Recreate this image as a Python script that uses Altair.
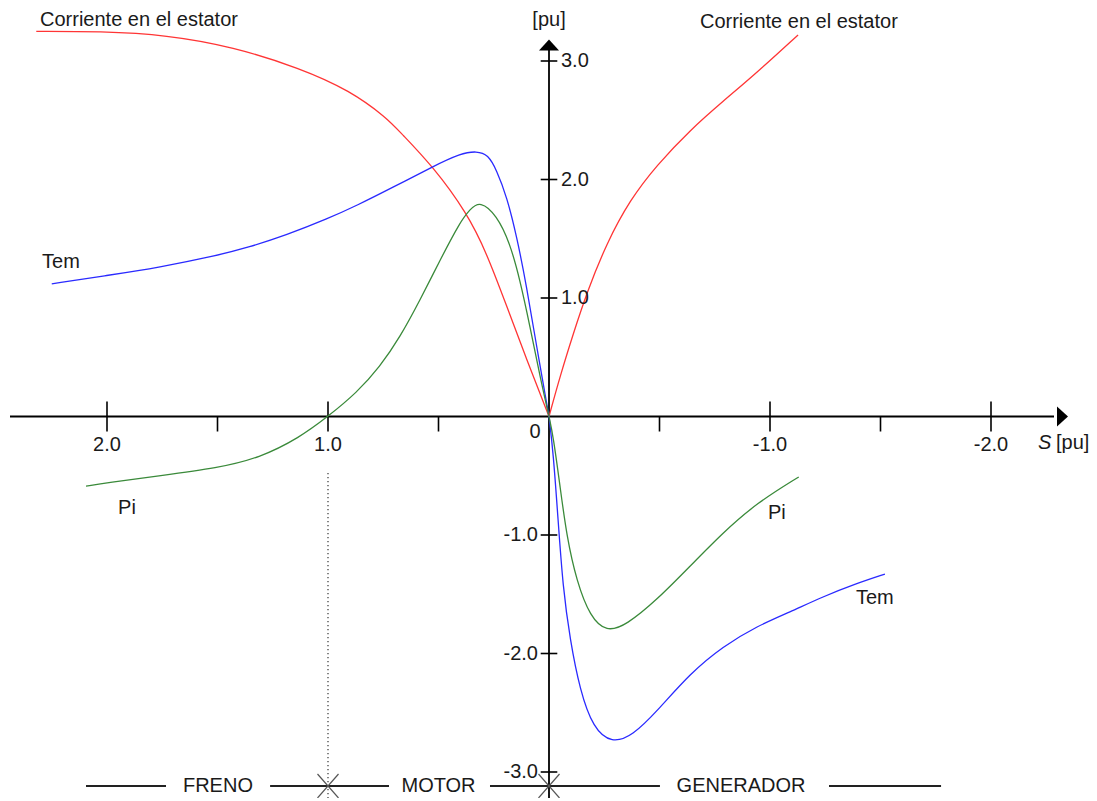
import altair as alt
import pandas as pd

# ---------------- data (S and values in pu) ----------------
corr_izq_S = [2.32, 2.03, 1.73, 1.43, 1.127, 0.90, 0.734, 0.674, 0.525, 0.372, 0.282, 0.191, 0.101, 0.0]
corr_izq_v = [3.25, 3.25, 3.22, 3.12, 2.94, 2.75, 2.52, 2.40, 2.11, 1.72, 1.38, 0.93, 0.48, 0.0]
corr_der_S = [0.0, -0.05, -0.11, -0.17, -0.26, -0.367, -0.487, -0.64, -0.787, -0.94, -1.127]
corr_der_v = [0.0, 0.34, 0.70, 1.04, 1.46, 1.83, 2.12, 2.42, 2.66, 2.90, 3.22]

tem_izq_S = [2.25, 2.0, 1.76, 1.52, 1.355, 1.19, 1.0, 0.87, 0.71, 0.525, 0.40, 0.327, 0.276, 0.237, 0.191, 0.146, 0.101, 0.056, 0.0]
tem_izq_v = [1.12, 1.19, 1.26, 1.35, 1.43, 1.53, 1.67, 1.78, 1.93, 2.11, 2.22, 2.24, 2.21, 2.08, 1.855, 1.52, 1.095, 0.59, 0.0]
tem_der_S = [0.0, -0.0195, -0.041, -0.063, -0.095, -0.14, -0.20, -0.284, -0.38, -0.487, -0.64, -0.787, -0.94, -1.09, -1.24, -1.39, -1.52]
tem_der_v = [0.0, -0.31, -0.87, -1.44, -1.88, -2.31, -2.63, -2.76, -2.69, -2.49, -2.165, -1.94, -1.77, -1.65, -1.52, -1.41, -1.33]

pi_izq_S = [2.095, 2.0, 1.76, 1.50, 1.31, 1.13, 1.0, 0.87, 0.765, 0.674, 0.584, 0.493, 0.403, 0.357, 0.312, 0.237, 0.176, 0.131, 0.086, 0.041, 0.0]
pi_izq_v = [-0.587, -0.56, -0.50, -0.435, -0.35, -0.18, 0.0, 0.20, 0.42, 0.67, 0.98, 1.32, 1.64, 1.75, 1.82, 1.70, 1.46, 1.15, 0.76, 0.34, 0.0]
pi_der_S = [0.0, -0.0195, -0.05, -0.08, -0.125, -0.186, -0.26, -0.35, -0.487, -0.64, -0.787, -0.94, -1.13]
pi_der_v = [0.0, -0.17, -0.59, -1.01, -1.39, -1.69, -1.82, -1.76, -1.55, -1.26, -0.98, -0.73, -0.51]

series = ["Corriente", "Tem", "Pi"]
series_colors = ["#ff3535", "#2a2aff", "#3a8a3a"]

# axis ticks
x_major = [2.0, 1.0, -1.0, -2.0]
x_major_text = ["2.0", "1.0", "-1.0", "-2.0"]
x_minor = [1.5, 0.5, -0.5, -1.5]
y_pos = [3.0, 2.0, 1.0]
y_pos_text = ["3.0", "2.0", "1.0"]
y_neg = [-1.0, -2.0, -3.0]
y_neg_text = ["-1.0", "-2.0", "-3.0"]

# annotations
curve_labels = ["Corriente en el estator", "Corriente en el estator", "Tem", "Pi", "Pi", "Tem"]
curve_label_S = [2.303, -0.683, 2.294, 1.95, -0.991, -1.389]
curve_label_v = [3.345, 3.33, 1.304, -0.772, -0.814, -1.532]

zonas = ["FRENO", "MOTOR", "GENERADOR"]
zonas_S = [1.498, 0.5, -0.869]
zona_fila_v = -3.118
zona_tramos_S1 = [2.095, 1.262, 0.267, -1.267]
zona_tramos_S2 = [1.733, 0.724, -0.502, -1.774]
zona_cruces_S = [1.0, 0.0]

# ---------------- tables ----------------
def tabla(S, v, serie, trazo):
    return pd.DataFrame({"S": S, "v": v, "serie": serie, "trazo": trazo, "orden": list(range(len(S)))})

curvas = pd.concat([
    tabla(corr_izq_S, corr_izq_v, "Corriente", "c1"),
    tabla(corr_der_S, corr_der_v, "Corriente", "c2"),
    tabla(tem_izq_S, tem_izq_v, "Tem", "t1"),
    tabla(tem_der_S, tem_der_v, "Tem", "t2"),
    tabla(pi_izq_S, pi_izq_v, "Pi", "p1"),
    tabla(pi_der_S, pi_der_v, "Pi", "p2"),
], ignore_index=True)

W, H = 1081, 790
PX_X = 221.0     # px per pu on S
PX_Y = 118.5     # px per pu on value
X0, Y0 = 541.0, 408.5
xs = alt.Scale(domain=[X0 / PX_X, -(W - X0) / PX_X], nice=False, zero=False)
ys = alt.Scale(domain=[(Y0 - H) / PX_Y, Y0 / PX_Y], nice=False, zero=False)

tick_half = 15 / PX_Y
ytick_half = 8.3 / PX_X

ejes = pd.DataFrame({
    "x1": [(X0 - 2) / PX_X, 0.0],
    "x2": [-(1054 - 8 - X0) / PX_X, 0.0],
    "y1": [0.0, -3.25],
    "y2": [0.0, (Y0 - 39) / PX_Y],
})

segs = pd.DataFrame(
    [{"x1": s, "x2": s, "y1": -tick_half, "y2": tick_half} for s in x_major]
    + [{"x1": s, "x2": s, "y1": -tick_half, "y2": 0.0} for s in x_minor]
    + [{"x1": ytick_half, "x2": -ytick_half, "y1": v, "y2": v} for v in y_pos + y_neg]
)

flecha_x = pd.DataFrame({"S": [-(1062.5 - 8 - X0) / PX_X], "v": [0.0]})
flecha_y = pd.DataFrame({"S": [0.0], "v": [(Y0 - 37) / PX_Y]})

xlab = pd.DataFrame({"S": x_major, "v": [-0.24] * 4, "t": x_major_text})
cero = pd.DataFrame({"S": [0.063], "v": [-0.13], "t": ["0"]})
ylab_pos = pd.DataFrame({"S": [0.0] * 3, "v": y_pos, "t": y_pos_text})
ylab_neg = pd.DataFrame({"S": [0.0] * 3, "v": y_neg, "t": y_neg_text})
unidades = pd.DataFrame({"S": [0.0], "v": [3.345], "t": ["[pu]"]})
s_eje = pd.DataFrame({"S": [-2.213], "v": [-0.224], "t": ["S"]})
s_pu = pd.DataFrame({"S": [-2.294], "v": [-0.224], "t": ["[pu]"]})

etiquetas = pd.DataFrame({"S": curve_label_S, "v": curve_label_v, "t": curve_labels})
zonas_df = pd.DataFrame({"S": zonas_S, "v": [zona_fila_v] * 3, "t": zonas})
tramos = pd.DataFrame({"x1": zona_tramos_S1, "x2": zona_tramos_S2,
                       "y1": [zona_fila_v] * 4, "y2": [zona_fila_v] * 4})
cx, cy = 10.5 / PX_X, 12 / PX_Y
cruces = pd.DataFrame(
    [{"x1": s - cx, "x2": s + cx, "y1": zona_fila_v - cy, "y2": zona_fila_v + cy} for s in zona_cruces_S]
    + [{"x1": s - cx, "x2": s + cx, "y1": zona_fila_v + cy, "y2": zona_fila_v - cy} for s in zona_cruces_S]
)
punteada = pd.DataFrame({"x1": [1.0], "x2": [1.0], "y1": [-0.477], "y2": [-3.35]})

FONT = "Liberation Sans"
FS = 20
TXT = "#1a1a1a"

def X(f="S"):
    return alt.X(f"{f}:Q", scale=xs, axis=None)

def Y(f="v"):
    return alt.Y(f"{f}:Q", scale=ys, axis=None)

def seg_layer(df, **mk):
    return alt.Chart(df).mark_rule(**mk).encode(
        x=X("x1"), x2="x2:Q", y=Y("y1"), y2="y2:Q")

def text_layer(df, **mk):
    base = dict(font=FONT, fontSize=FS, color=TXT, baseline="middle")
    base.update(mk)
    return alt.Chart(df).mark_text(**base).encode(x=X(), y=Y(), text="t:N")

lines = alt.Chart(curvas).mark_line(strokeWidth=1.3, interpolate="basis").encode(
    x=X(), y=Y(),
    color=alt.Color("serie:N", scale=alt.Scale(domain=series, range=series_colors), legend=None),
    detail="trazo:N",
    order="orden:Q",
)

layers = [
    seg_layer(punteada, color="#444", strokeWidth=1.3, strokeDash=[1.3, 2.7]),
    seg_layer(ejes, color="black", strokeWidth=1.8),
    seg_layer(segs, color="black", strokeWidth=1.6),
    alt.Chart(flecha_x).mark_point(shape="M0.55,0L-0.55,-1L-0.55,1Z", size=400, filled=True,
                                   color="black", opacity=1).encode(x=X(), y=Y()),
    alt.Chart(flecha_y).mark_point(shape="M0,-0.55L-1,0.55L1,0.55Z", size=400, filled=True,
                                   color="black", opacity=1).encode(x=X(), y=Y()),
    seg_layer(tramos, color="#222", strokeWidth=2),
    seg_layer(cruces, color="#555", strokeWidth=1.2),
    lines,
    text_layer(xlab, align="center"),
    text_layer(cero, align="center"),
    text_layer(ylab_pos, align="left", dx=12),
    text_layer(ylab_neg, align="right", dx=-11),
    text_layer(unidades, align="center"),
    text_layer(s_eje, align="left", fontStyle="italic"),
    text_layer(s_pu, align="left"),
    text_layer(etiquetas, align="left"),
    text_layer(zonas_df, align="center"),
]

chart = alt.layer(*layers).properties(
    width=W, height=H, padding=0,
    autosize=alt.AutoSizeParams(type="none"),
).configure_view(stroke=None)

chart.save("out.html", embed_options={"renderer": "svg", "actions": False})
